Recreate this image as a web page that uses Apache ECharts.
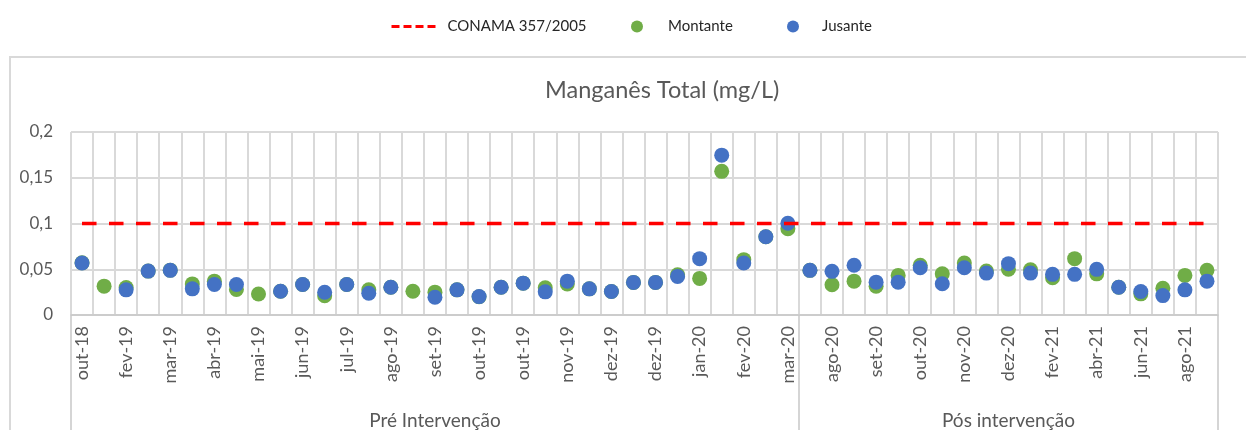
<!DOCTYPE html>
<html>
<head>
<meta charset="utf-8">
<script src="https://cdn.jsdelivr.net/npm/echarts@6/dist/echarts.min.js"></script>
<style>
  html, body { margin: 0; padding: 0; background: #fff; }
  #chart { width: 1246px; height: 430px; }
</style>
</head>
<body>
<div id="chart"></div>
<script>
// categorias (datas de coleta)
const preCategories = ['out-18','jan-19','fev-19','fev-19','mar-19','mar-19','abr-19','abr-19','mai-19','mai-19',
  'jun-19','jun-19','jul-19','jul-19','ago-19','ago-19','set-19','set-19','out-19','out-19','out-19',
  'nov-19','nov-19','nov-19','dez-19','dez-19','dez-19','jan-20','jan-20','jan-20','fev-20','fev-20','mar-20'];
const posCategories = ['jul-20','ago-20','ago-20','set-20','set-20','out-20','out-20','nov-20','nov-20','dez-20',
  'jan-21','fev-21','mar-21','abr-21','mai-21','jun-21','jul-21','ago-21','set-21'];
const groups = ['Pré Intervenção', 'Pós intervenção'];
const categories = preCategories.concat(posCategories);

// valores (mg/L)
const montante = [0.057, 0.0315, 0.030, 0.048, 0.049, 0.034, 0.037, 0.028, 0.023, 0.026,
  0.0334, 0.021, 0.0334, 0.0275, 0.0304, 0.026, 0.025, 0.0275, 0.020, 0.0304,
  0.0348, 0.0297, 0.034, 0.0286, 0.0257, 0.0356, 0.0356, 0.044, 0.040, 0.157,
  0.0605, 0.0855, 0.0943,
  0.0488, 0.033, 0.037, 0.0315, 0.0433, 0.0543, 0.045, 0.0568, 0.048, 0.050,
  0.0495, 0.0407, 0.0616, 0.045, 0.0304, 0.0231, 0.0293, 0.0433, 0.0488];
const jusante = [0.0568, null, 0.0275, 0.048, 0.0488, 0.0286, 0.0334, 0.0334, null, 0.026,
  0.0334, 0.0249, 0.0334, 0.0238, 0.0304, null, 0.0194, 0.0275, 0.0201, 0.0304,
  0.0348, 0.0253, 0.037, 0.0286, 0.0257, 0.0356, 0.0356, 0.0422, 0.0616, 0.1747,
  0.0568, 0.0855, 0.1002,
  0.0488, 0.0477, 0.0543, 0.0359, 0.0359, 0.0517, 0.0341, 0.0517, 0.0458, 0.0561,
  0.0458, 0.0444, 0.0444, 0.0499, 0.0304, 0.0257, 0.0212, 0.0275, 0.037];
const limite = 0.1;
const conama = categories.map(() => limite);

// limites dos grupos no eixo inferior
const groupStarts = [0, preCategories.length];
const groupSizes = [preCategories.length, posCategories.length];
const groupEdges = [0, preCategories.length, categories.length];
const groupCenters = groupStarts.map((s, i) => s + groupSizes[i] / 2);

const FONT = 'Lato, "Open Sans", sans-serif';

var myChart = echarts.init(document.getElementById('chart'));

const option = {
  animation: false,
  textStyle: { fontFamily: FONT },
  title: {
    text: 'Manganês Total (mg/L)',
    left: 540,
    top: 73,
    textStyle: { fontFamily: FONT, fontSize: 23.5, fontWeight: 'normal', color: '#595959' }
  },
  legend: [
    {
      data: ['CONAMA 357/2005'], left: 385, top: 14, itemWidth: 45, itemHeight: 12,
      lineStyle: { type: [8, 4], width: 3 },
      itemStyle: { opacity: 0 },
      textStyle: { fontFamily: FONT, fontSize: 15, color: '#262626', padding: [0, 0, 0, 6] }
    },
    {
      data: ['Montante'], left: 626, top: 14, itemWidth: 12, itemHeight: 12,
      textStyle: { fontFamily: FONT, fontSize: 15, color: '#262626', padding: [0, 0, 0, 20] }
    },
    {
      data: ['Jusante'], left: 782, top: 14, itemWidth: 12, itemHeight: 12,
      textStyle: { fontFamily: FONT, fontSize: 15, color: '#262626', padding: [0, 0, 0, 18] }
    }
  ],
  graphic: [{
    type: 'rect',
    shape: { x: 10, y: 57, width: 1260, height: 420 },
    style: { fill: 'none', stroke: '#d9d9d9', lineWidth: 2 },
    silent: true
  }],
  grid: { left: 71, right: 28, top: 132, bottom: 115 },
  xAxis: [
    {
      type: 'category',
      data: categories,
      boundaryGap: true,
      axisLine: { lineStyle: { color: '#c8c8c8', width: 1.5 } },
      axisTick: { show: false },
      axisLabel: {
        interval: 1, rotate: 90, margin: 11,
        fontFamily: FONT, fontSize: 18, color: '#595959'
      },
      splitLine: { show: true, interval: 0, lineStyle: { color: '#d9d9d9', width: 2 } }
    },
    {
      type: 'value',
      min: 0,
      max: categories.length,
      position: 'bottom',
      axisLine: { show: false },
      axisTick: {
        show: true, customValues: groupEdges, length: 130,
        lineStyle: { color: '#c8c8c8', width: 1.5 }
      },
      axisLabel: {
        customValues: groupCenters, margin: 96,
        fontFamily: FONT, fontSize: 19, color: '#595959',
        formatter: function (v) {
          const i = groupCenters.indexOf(v);
          return i >= 0 ? groups[i] : '';
        }
      },
      splitLine: { show: false }
    }
  ],
  yAxis: {
    type: 'value',
    min: 0, max: 0.2, interval: 0.05,
    axisLine: { show: false },
    axisTick: { show: false },
    axisLabel: {
      margin: 18, fontFamily: FONT, fontSize: 17, color: '#595959',
      formatter: v => String(+v.toFixed(2)).replace('.', ',')
    },
    splitLine: { lineStyle: { color: '#d9d9d9', width: 2 } }
  },
  series: [
    {
      name: 'CONAMA 357/2005',
      type: 'line',
      data: conama,
      symbol: 'none',
      itemStyle: { color: '#ff0000' },
      lineStyle: { color: '#ff0000', width: 3.5, type: [14.5, 12.5] }
    },
    {
      name: 'Montante',
      type: 'scatter',
      data: montante,
      symbolSize: 15,
      itemStyle: { color: '#70ad47', opacity: 1 }
    },
    {
      name: 'Jusante',
      type: 'scatter',
      data: jusante,
      symbolSize: 15,
      itemStyle: { color: '#4472c4', opacity: 1 }
    }
  ]
};

myChart.setOption(option);

window.addEventListener('resize', function () {
  myChart.resize();
});
</script>
</body>
</html>
